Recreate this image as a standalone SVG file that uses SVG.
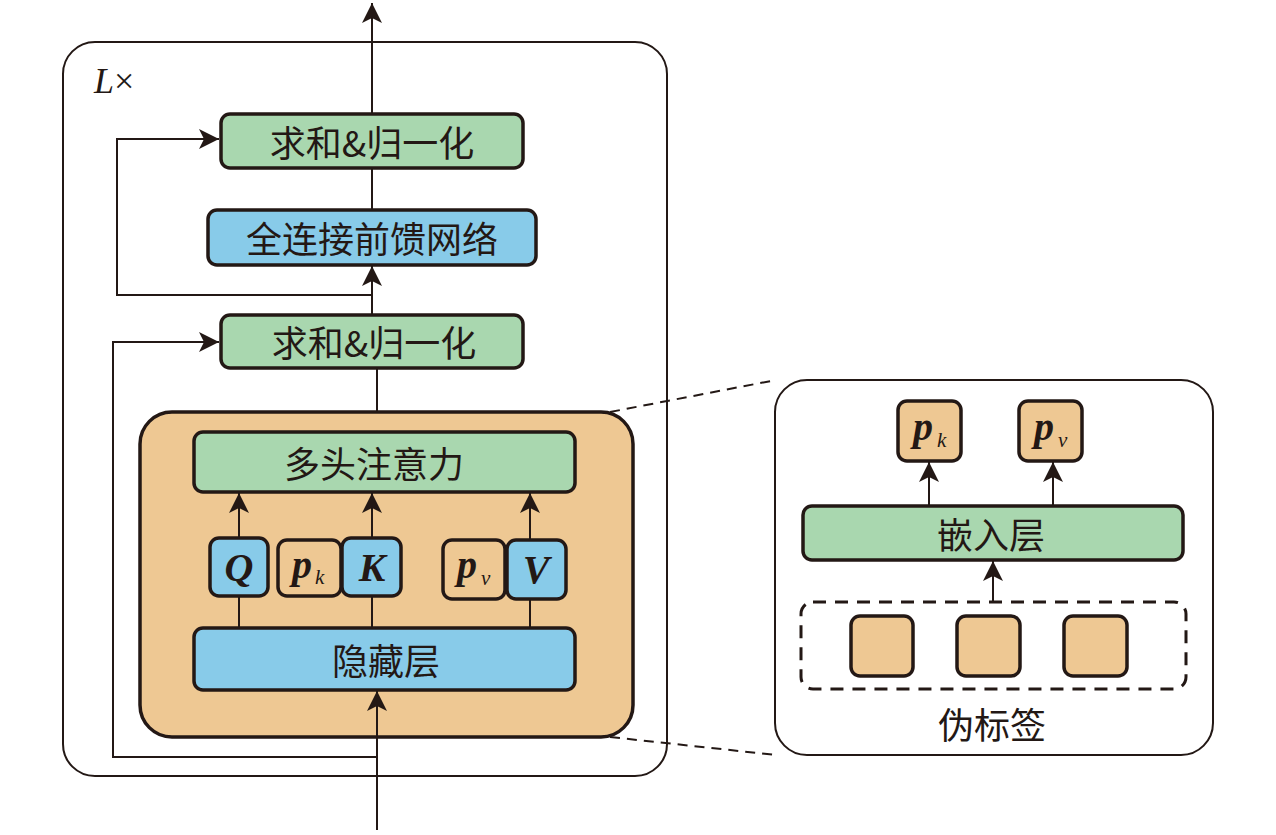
<svg xmlns="http://www.w3.org/2000/svg" width="1276" height="835" viewBox="0 0 1276 835">
<defs>
<marker id="ah" viewBox="0 0 20 22" refX="20" refY="11" markerWidth="20" markerHeight="22" markerUnits="userSpaceOnUse" orient="auto">
<path d="M0,1 L20,11 L0,21 L5,11 Z" fill="#231815"/>
</marker>
<style>
.g{fill:#A9D7AF;stroke:#231815;stroke-width:3.5}
.b{fill:#88CBE9;stroke:#231815;stroke-width:3.5}
.o{fill:#EEC893;stroke:#231815;stroke-width:3.5}
.c{fill:none;stroke:#231815;stroke-width:2}
.t{font-family:"Noto Sans CJK SC","Liberation Serif",serif;font-size:36px;fill:#231815;text-anchor:middle;dominant-baseline:central}
.m{font-family:"Liberation Serif",serif;font-style:italic;font-weight:bold;font-size:40px;fill:#231815;text-anchor:middle;dominant-baseline:central}
.s{font-family:"Liberation Serif",serif;font-style:italic;font-size:21px;fill:#231815}
</style>
</defs>
<rect width="1276" height="835" fill="#fff"/>
<g id="outer"><rect x="63" y="42" width="604" height="734" rx="32" fill="none" stroke="#231815" stroke-width="2"/>
<text x="94" y="93" font-family="Liberation Serif,serif" font-size="36" fill="#231815"><tspan font-style="italic">L</tspan>×</text></g>
<g id="block"><rect x="140" y="412" width="493" height="325" rx="32" class="o"/></g>
<g id="connectors">
<line x1="372" y1="113" x2="372" y2="3" class="c" marker-end="url(#ah)"/>
<line x1="372" y1="168" x2="372" y2="209" class="c"/>
<line x1="372" y1="315" x2="372" y2="266" class="c" marker-end="url(#ah)"/>
<polyline points="372,295 117,295 117,139 219,139" class="c" marker-end="url(#ah)"/>
<line x1="377" y1="368" x2="377" y2="412" class="c"/>
<polyline points="377,757 113,757 113,342 219,342" class="c" marker-end="url(#ah)"/>
<line x1="377" y1="830" x2="377" y2="691" class="c" marker-end="url(#ah)"/>
<line x1="239" y1="537" x2="239" y2="493" class="c" marker-end="url(#ah)"/>
<line x1="372" y1="537" x2="372" y2="493" class="c" marker-end="url(#ah)"/>
<line x1="530" y1="539" x2="530" y2="493" class="c" marker-end="url(#ah)"/>
<line x1="239" y1="596" x2="239" y2="627" class="c"/>
<line x1="372" y1="596" x2="372" y2="627" class="c"/>
<line x1="530" y1="599" x2="530" y2="627" class="c"/>
<line x1="610" y1="412" x2="776" y2="380" class="c" stroke-dasharray="10,7" stroke-width="1.5"/>
<line x1="610" y1="737" x2="776" y2="755" class="c" stroke-dasharray="10,7" stroke-width="1.5"/>
<line x1="929" y1="505" x2="929" y2="462" class="c" marker-end="url(#ah)"/>
<line x1="1053" y1="505" x2="1053" y2="462" class="c" marker-end="url(#ah)"/>
<line x1="993" y1="602" x2="993" y2="561" class="c" marker-end="url(#ah)"/>
</g>
<g id="sum2"><rect x="221" y="114" width="302" height="54" rx="9" class="g"/><text x="372" y="141" class="t">求和&amp;归一化</text></g>
<g id="ffn"><rect x="208" y="210" width="328" height="55" rx="9" class="b"/><text x="372" y="237" class="t">全连接前馈网络</text></g>
<g id="sum1"><rect x="221" y="315" width="302" height="53" rx="9" class="g"/><text x="374" y="341" class="t">求和&amp;归一化</text></g>
<g id="mha"><rect x="194" y="432" width="381" height="60" rx="9" class="g"/><text x="374" y="462" class="t">多头注意力</text></g>
<g id="Q"><rect x="210" y="538" width="58" height="58" rx="9" class="b"/><text x="239" y="567" class="m">Q</text></g>
<g id="pk"><rect x="278" y="540" width="63" height="56" rx="9" class="o"/><text x="302" y="564" class="m">p</text><text x="315" y="584" class="s">k</text></g>
<g id="K"><rect x="342" y="538" width="59" height="58" rx="9" class="b"/><text x="372" y="567" class="m">K</text></g>
<g id="pv"><rect x="443" y="540" width="62" height="59" rx="9" class="o"/><text x="467" y="564" class="m">p</text><text x="481" y="585" class="s">v</text></g>
<g id="V"><rect x="507" y="540" width="59" height="59" rx="9" class="b"/><text x="536" y="569" class="m">V</text></g>
<g id="hidden"><rect x="194" y="628" width="381" height="62" rx="9" class="b"/><text x="386" y="659" class="t">隐藏层</text></g>
<g id="panel"><rect x="775" y="380" width="438" height="375" rx="32" fill="none" stroke="#231815" stroke-width="2"/></g>
<g id="pk2"><rect x="898" y="401" width="63" height="60" rx="9" class="o"/><text x="923" y="426" class="m">p</text><text x="937" y="447" class="s">k</text></g>
<g id="pv2"><rect x="1019" y="401" width="63" height="60" rx="9" class="o"/><text x="1044" y="426" class="m">p</text><text x="1058" y="447" class="s">v</text></g>
<g id="embed"><rect x="803" y="506" width="380" height="54" rx="9" class="g"/><text x="991" y="533" class="t">嵌入层</text></g>
<g id="pseudo"><rect x="801" y="602" width="385" height="87" rx="12" fill="none" stroke="#231815" stroke-width="3" stroke-dasharray="13,9"/>
<rect x="851" y="616" width="62" height="60" rx="9" class="o"/>
<rect x="957" y="616" width="63" height="60" rx="9" class="o"/>
<rect x="1064" y="616" width="63" height="60" rx="9" class="o"/>
<text x="992" y="723" class="t">伪标签</text></g>
</svg>
